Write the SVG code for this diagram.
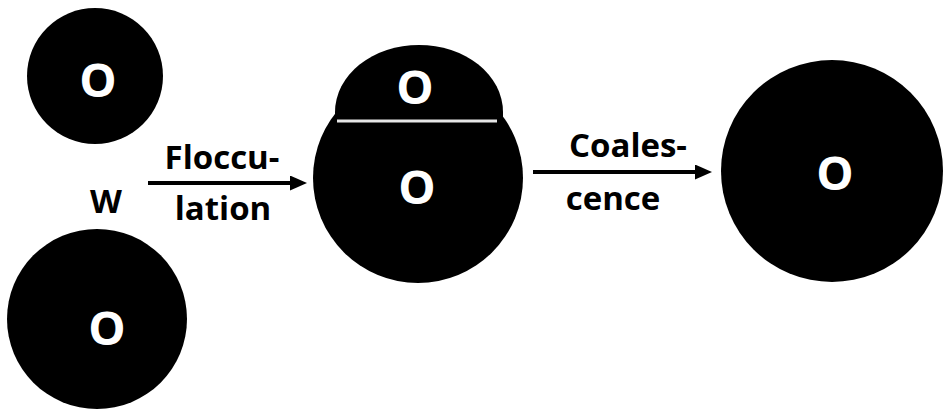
<svg xmlns="http://www.w3.org/2000/svg" width="948" height="409" viewBox="0 0 948 409">
  <style>
    .drop { fill: #000; }
    .oil { font-family: "Open Sans", Lato, "Liberation Sans", sans-serif; font-weight: bold; font-size: 47px; fill: #fff; text-anchor: middle; }
    .label { font-family: "Open Sans", Lato, "Liberation Sans", sans-serif; font-weight: bold; font-size: 33px; fill: #000; text-anchor: middle; font-variant-ligatures: none; }
    .conn { stroke: #000; stroke-width: 4; fill: none; }
  </style>
  <defs>
    <marker id="head" viewBox="0 0 17 15" refX="7" refY="7.5" markerWidth="17" markerHeight="15" markerUnits="userSpaceOnUse" orient="auto">
      <path d="M0,0 L17,7.5 L0,15 Z" fill="#000"/>
    </marker>
  </defs>

  <rect width="948" height="409" fill="#fff"/>

  <!-- two separate oil droplets in water -->
  <g id="drop-top">
    <circle class="drop" cx="95" cy="76" r="68"/>
    <text class="oil" x="98" y="97">O</text>
  </g>
  <g id="drop-bottom">
    <circle class="drop" cx="97" cy="319" r="90"/>
    <text class="oil" x="107" y="345">O</text>
  </g>
  <g id="water">
    <text class="label" x="106" y="213" font-size="40">W</text>
  </g>

  <!-- flocculated pair: small droplet resting on a larger one -->
  <g id="floc">
    <circle class="drop" cx="418" cy="178" r="105"/>
    <path class="drop" d="M335,121 L335,112 A84,67 0 0 1 503,112 L503,121 Z"/>
    <line x1="337" y1="121" x2="497" y2="121" stroke="#e6e6e6" stroke-width="3"/>
    <text class="oil" x="415" y="104">O</text>
    <text class="oil" x="417" y="204">O</text>
  </g>

  <!-- merged droplet -->
  <g id="merged">
    <circle class="drop" cx="832" cy="171" r="111"/>
    <text class="oil" x="835" y="190">O</text>
  </g>

  <g id="connectors">
    <line class="conn" x1="148" y1="183" x2="297" y2="183" marker-end="url(#head)"/>
    <text class="label" x="222" y="169">Floccu-</text>
    <text class="label" x="223" y="220">lation</text>
    <line class="conn" x1="533" y1="172" x2="702" y2="172" marker-end="url(#head)"/>
    <text class="label" x="628" y="157">Coales-</text>
    <text class="label" x="613" y="210">cence</text>
  </g>
</svg>
